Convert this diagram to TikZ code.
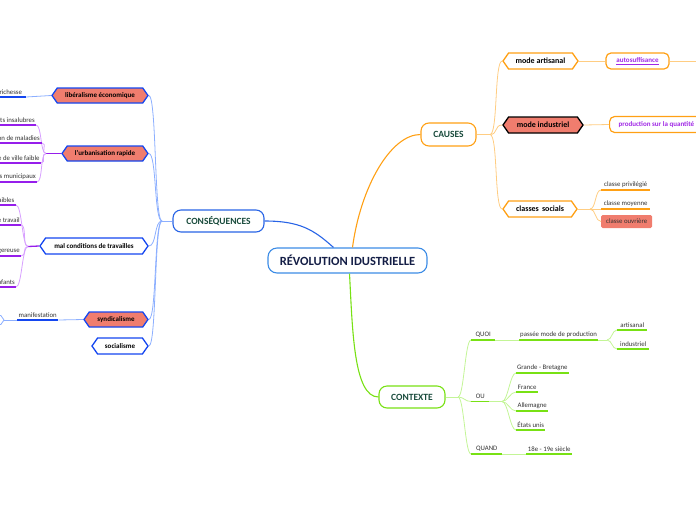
\documentclass[tikz,border=0pt]{standalone}
\usepackage{fontspec}
\setmainfont{Carlito}
\usetikzlibrary{shapes.symbols}

\begin{document}
\begin{tikzpicture}[x=1pt, y=-1pt,
    every node/.style={font=\fontsize{6.8}{8}\selectfont, inner sep=1pt, text=gris},
    racine/.style={draw=bleuR, line width=1.1pt, rounded corners=9pt, fill=white, minimum width=159pt, minimum height=25pt, text=marine, font=\fontsize{12.5}{14}\selectfont\bfseries},
    theme/.style={line width=1.1pt, rounded corners=8pt, fill=white, minimum height=22pt, text=vertF, font=\fontsize{9.5}{11}\selectfont\bfseries},
    hexa/.style={signal, signal to=east and west, signal pointer angle=110, line width=1.3pt, minimum height=16pt, inner sep=0pt, text=black, font=\fontsize{7}{8}\selectfont\bfseries},
    hexaG/.style={hexa, font=\fontsize{8}{9}\selectfont\bfseries},
    boite/.style={draw=orange, line width=1.2pt, rounded corners=5pt, fill=white, minimum height=16pt, inner xsep=9pt, text=violetT, font=\fontsize{7}{8}\selectfont\bfseries},
    feuille/.style={anchor=south west, inner ysep=2.5pt},
    feuilleG/.style={anchor=south east, inner ysep=2.5pt},
    lienB/.style={bleuC, line width=0.8pt},
    lienO/.style={orangeC, line width=0.8pt},
    lienV/.style={vertC, line width=0.8pt},
    lienVio/.style={violetC, line width=0.8pt},
    soulB/.style={bleuF, line width=1.3pt},
    soulO/.style={orange, line width=1.3pt},
    soulV/.style={vert, line width=1.3pt},
    soulVio/.style={violet, line width=1.3pt}]

    % Couleurs
    \definecolor{bleuF}{RGB}{20,70,240}
    \definecolor{bleuC}{RGB}{140,175,255}
    \definecolor{bleuR}{RGB}{60,140,230}
    \definecolor{bleuT}{RGB}{40,100,230}
    \definecolor{orange}{RGB}{255,160,20}
    \definecolor{orangeC}{RGB}{255,205,130}
    \definecolor{vert}{RGB}{120,225,20}
    \definecolor{vertC}{RGB}{195,245,150}
    \definecolor{violet}{RGB}{150,30,235}
    \definecolor{violetC}{RGB}{215,160,255}
    \definecolor{violetT}{RGB}{160,40,230}
    \definecolor{saumon}{RGB}{240,125,110}
    \definecolor{vertF}{RGB}{25,75,60}
    \definecolor{marine}{RGB}{20,30,70}
    \definecolor{gris}{RGB}{50,50,50}

    \useasboundingbox (0,0) rectangle (696,520);
    \clip (0,0) rectangle (696,520);

    % Idee centrale
    \node[racine] (rev) at (347.5,260.5) {RÉVOLUTION IDUSTRIELLE};
    \node[theme, draw=bleuT, minimum width=91pt] (cons) at (218.5,221) {CONSÉQUENCES};
    \node[theme, draw=orange, minimum width=55pt, minimum height=23pt] (causes) at (448.5,134.5) {CAUSES};
    \node[theme, draw=vert, minimum width=66pt] (ctx) at (412,397) {CONTEXTE};

    \draw[line width=1.1pt, bleuT] ([xshift=-14pt]rev.north) .. controls +(-20,-18) and +(35,0) .. (cons.east);
    \draw[line width=1.1pt, orange] ([xshift=5pt]rev.north) .. controls +(8,-60) and +(-30,0) .. (causes.west);
    \draw[line width=1.1pt, vert] ([xshift=2pt]rev.south) .. controls +(3,55) and +(-25,0) .. (ctx.west);

    % CAUSES
    \coordinate (jCauses) at (490,134.5);
    \node[hexaG, draw=orange, fill=white, minimum width=75pt] (artisanal) at (540.5,61) {mode artisanal};
    \node[hexaG, draw=black, fill=saumon, minimum width=80pt] (industriel) at (543,125) {mode industriel};
    \node[hexaG, draw=orange, fill=white, minimum width=74pt] (sociales) at (540,209) {classes\, socials};
    \draw[lienO] (causes.east) -- (jCauses);
    \foreach \n in {artisanal, industriel, sociales}
        \draw[lienO] (jCauses) .. controls +(8,0) and +(-8,0) .. (\n.west);

    \node[boite, minimum width=63pt] (auto) at (637.5,61) {\underline{autosuffisance}};
    \node[boite, anchor=west] (prod) at (609,124.5) {production sur la quantité};
    \coordinate (horsD) at (700,61);
    \draw[lienO] (artisanal.east) -- (auto.west);
    \draw[lienO] (auto.east) -- (horsD);
    \draw[lienO] (industriel.east) -- (prod.west);

    % classes
    \coordinate (jSoc) at (590,209);
    \node[feuille, minimum width=49pt] (privi) at (601,190) {classe privilégié};
    \node[feuille, minimum width=49pt] (moyenne) at (601,209) {classe moyenne};
    \node[fill=saumon, rounded corners=1.5pt, minimum width=51pt, minimum height=13pt, anchor=west] (ouvriere) at (601,221.5) {classe ouvrière};
    \draw[lienO] (sociales.east) -- (jSoc);
    \draw[lienO] (jSoc) .. controls +(6,0) and +(-6,0) .. (privi.south west);
    \draw[lienO] (jSoc) -- (moyenne.south west);
    \draw[lienO] (jSoc) .. controls +(6,0) and +(-6,0) .. (ouvriere.west);
    \foreach \n in {privi, moyenne}
        \draw[soulO] (\n.south west) -- (\n.south east);

    % CONSEQUENCES
    \coordinate (jCons) at (162,221);
    \node[hexa, draw=bleuF, fill=saumon, minimum width=96pt, minimum height=15pt] (liberal) at (100,95.5) {libéralisme économique};
    \node[hexa, draw=bleuF, fill=saumon, minimum width=86pt, minimum height=15pt] (urbain) at (105,153.5) {l'urbanisation rapide};
    \node[hexa, draw=bleuF, fill=white, minimum width=108pt] (conditions) at (94,246) {mal conditions de travailles};
    \node[hexa, draw=bleuF, fill=saumon, minimum width=64pt, minimum height=15pt] (syndic) at (116,319.5) {syndicalisme};
    \node[hexa, draw=bleuF, fill=white, minimum width=56pt] (socialisme) at (120,346) {socialisme};
    \draw[lienB] (cons.west) -- (jCons);
    \foreach \n in {liberal, urbain, conditions, syndic, socialisme}
        \draw[lienB] (jCons) .. controls +(-8,0) and +(8,0) .. (\n.east);

    % liberalisme
    \node[feuilleG, minimum width=30pt] (richesse) at (26,97) {richesse};
    \draw[lienB] (liberal.west) -- (richesse.south east);
    \draw[soulB] (richesse.south west) -- (richesse.south east);

    % urbanisation
    \coordinate (jUrb) at (46,153.5);
    \node[feuilleG, minimum width=39pt] (insalubres) at (36,125) {nts insalubres};
    \node[feuilleG, minimum width=46pt] (maladies) at (42,143) {on de maladies};
    \node[feuilleG, minimum width=44pt] (faible) at (41,163) {e de ville faible};
    \node[feuilleG, minimum width=40pt] (municipaux) at (37,182) {es municipaux};
    \draw[soulVio] (urbain.west) -- (jUrb);
    \foreach \n in {insalubres, maladies, faible, municipaux}{
        \draw[lienVio] (jUrb) .. controls +(-6,0) and +(6,0) .. (\n.south east);
        \draw[soulVio] (\n.south west) -- (\n.south east);
    }

    % conditions de travail
    \coordinate (jTrav) at (28,246.5);
    \node[feuilleG, minimum width=19pt] (faibles) at (16,205) {aibles};
    \node[feuilleG, minimum width=24pt] (ftravail) at (21,225) {e travail};
    \node[feuilleG, minimum width=24pt] (dangereuse) at (21,256) {gereuse};
    \node[feuilleG, minimum width=19pt] (enfants) at (16,287) {nfants};
    \draw[soulVio] (conditions.west) -- (jTrav);
    \foreach \n in {faibles, ftravail, dangereuse, enfants}{
        \draw[lienVio] (jTrav) .. controls +(-6,0) and +(6,0) .. (\n.south east);
        \draw[soulVio] (\n.south west) -- (\n.south east);
    }

    % syndicalisme
    \node[hexa, draw=bleuC, fill=white, line width=0.8pt, minimum width=40pt, minimum height=9pt] (cache) at (-16,320) {};
    \node[feuille, minimum width=41pt] (manif) at (17,320) {manifestation};
    \draw[lienB] (cache.east) -- (manif.south west);
    \draw[lienB] (manif.south east) -- (syndic.west);
    \draw[soulB] (manif.south west) -- (manif.south east);

    % CONTEXTE
    \coordinate (jCtx) at (458,397);
    \node[feuille, minimum width=24pt] (quoi) at (471,340) {QUOI};
    \node[feuille, minimum width=18pt] (ou) at (471,401.5) {OU};
    \node[feuille, minimum width=31pt] (quand) at (471,454) {QUAND};
    \draw[lienV] (ctx.east) -- (jCtx);
    \foreach \n in {quoi, ou, quand}
        \draw[lienV] (jCtx) .. controls +(6,0) and +(-6,0) .. (\n.south west);

    % quoi
    \coordinate (jQuoi) at (607,340);
    \node[feuille, minimum width=74pt] (passee) at (519,340) {passée mode de production};
    \node[feuille, minimum width=30pt] (artis) at (617,330) {artisanal};
    \node[feuille, minimum width=32pt] (indus) at (617,349) {industriel};
    \draw[lienV] (quoi.south east) -- (passee.south west);
    \draw[lienV] (passee.south east) -- (jQuoi);
    \foreach \n in {artis, indus}
        \draw[lienV] (jQuoi) .. controls +(5,0) and +(-5,0) .. (\n.south west);

    % ou
    \coordinate (jOu) at (502,401.5);
    \node[feuille, minimum width=50pt] (grande) at (516,373) {Grande - Bretagne};
    \node[feuille, minimum width=22pt] (france) at (516,392) {France};
    \node[feuille, minimum width=32pt] (allemagne) at (516,411) {Allemagne};
    \node[feuille, minimum width=29pt] (etats) at (516,430) {États unis};
    \draw[lienV] (ou.south east) -- (jOu);
    \foreach \n in {grande, france, allemagne, etats}
        \draw[lienV] (jOu) .. controls +(6,0) and +(-6,0) .. (\n.south west);

    % quand
    \node[feuille, minimum width=46pt] (siecle) at (526,454) {18e - 19e siècle};
    \draw[lienV] (quand.south east) -- (siecle.south west);

    \foreach \n in {quoi, ou, quand, passee, artis, indus, grande, france, allemagne, etats, siecle}
        \draw[soulV] (\n.south west) -- (\n.south east);

\end{tikzpicture}
\end{document}
